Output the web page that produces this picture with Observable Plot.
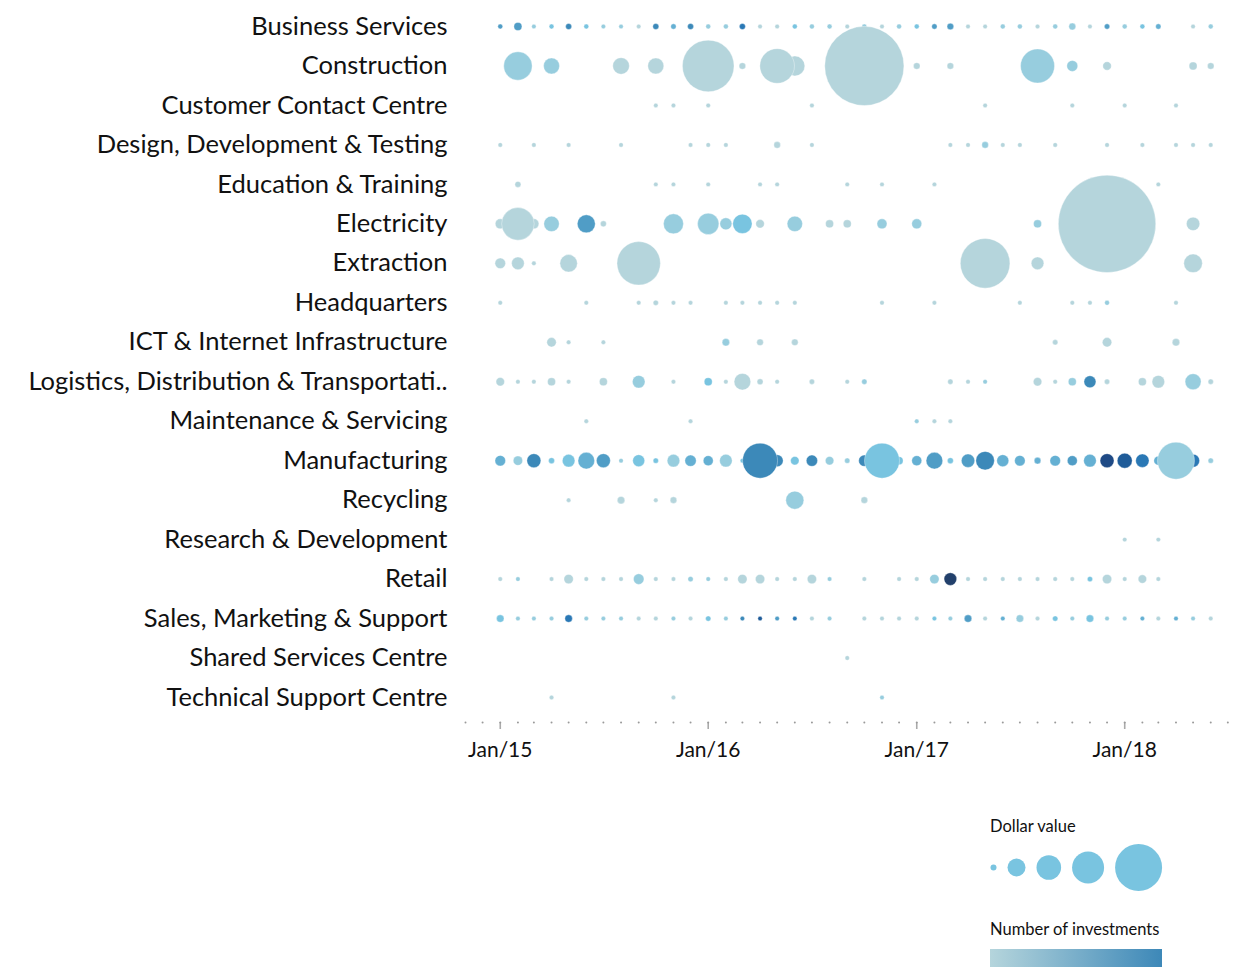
<!DOCTYPE html>
<html>
<head>
<meta charset="utf-8">
<script src="https://cdn.jsdelivr.net/npm/d3@7"></script>
<script src="https://cdn.jsdelivr.net/npm/@observablehq/plot@0.6"></script>
<style>
  body { margin: 0; background: #fff; font-family: Lato, "Open Sans", sans-serif; }
  #wrap { position: relative; width: 1245px; height: 967px; overflow: hidden; background: #fff; }
  #chart { position: absolute; left: 0; top: 0; }
  .lt { position: absolute; left: 990px; font-size: 16.5px; line-height: 1; color: #111; white-space: nowrap; }
  #sizeLegend { position: absolute; left: 990px; top: 841px; }
  #ramp { position: absolute; left: 990px; top: 949px; width: 172px; height: 30px; }
</style>
</head>
<body>
<div id="wrap">
  <div id="chart"></div>
  <div class="lt" id="t1" style="top:818px">Dollar value</div>
  <div id="sizeLegend"></div>
  <div class="lt" id="t2" style="top:921px">Number of investments</div>
  <div id="ramp"></div>
</div>
<script>
// ---- Data: [monthIndex from Jan 2015, dollar value, number of investments]
const sectors = [
  "Business Services", "Construction", "Customer Contact Centre", "Design, Development & Testing",
  "Education & Training", "Electricity", "Extraction", "Headquarters", "ICT & Internet Infrastructure",
  "Logistics, Distribution & Transportati..", "Maintenance & Servicing", "Manufacturing", "Recycling",
  "Research & Development", "Retail", "Sales, Marketing & Support", "Shared Services Centre",
  "Technical Support Centre"
];
const businessServices = [[0,6,5],[1,16,5],[2,5,2],[3,6,3],[4,9,6],[5,6,3],[6,5,2],[7,5,2],[8,5,1],[9,9,6],[10,7,4],[11,9,6],[12,6,2],[13,6,2],[14,9,7],[15,5,1],[16,5,1],[17,6,3],[18,6,2],[19,6,2],[20,5,1],[21,6,2],[22,5,1],[23,6,2],[24,6,3],[25,7,5],[26,11,5],[27,5,1],[28,5,1],[29,6,2],[30,6,2],[31,5,1],[32,6,2],[33,12,2],[34,5,1],[35,7,5],[36,6,2],[37,6,3],[38,7,4],[40,5,1],[41,6,2]];
const construction = [[1,202,2],[3,64,2],[7,69,1],[9,64,1],[12,666,1],[14,11,1],[16,300,1],[17,100,1],[21,1568,1],[24,11,1],[26,11,1],[31,289,2],[33,30,2],[35,18,1],[40,16,1],[41,11,1]];
const customerContact = [[9,5,1],[10,5,1],[12,5,1],[18,5,1],[28,5,1],[33,5,1],[36,5,1],[39,5,1]];
const designDev = [[0,5,1],[2,5,1],[4,5,1],[7,5,1],[11,5,1],[12,5,1],[13,5,1],[16,11,1],[18,5,1],[26,5,1],[27,5,1],[28,11,2],[29,5,1],[30,5,1],[32,5,1],[35,5,1],[37,5,1],[39,5,1],[40,5,1],[41,5,1]];
const education = [[1,9,1],[9,5,1],[10,5,1],[12,5,1],[15,5,1],[16,5,1],[20,5,1],[22,5,1],[25,5,1],[38,5,1]];
const electricity = [[0,25,1],[1,266,1],[2,25,1],[3,59,2],[5,81,5],[6,9,1],[10,100,2],[12,114,2],[13,36,2],[14,94,3],[15,18,1],[17,59,2],[19,16,1],[20,16,1],[22,25,2],[24,25,2],[31,16,2],[35,2372,1],[40,45,1]];
const extraction = [[0,28,1],[1,40,1],[2,5,1],[4,76,1],[8,471,1],[28,615,1],[31,40,1],[40,86,1]];
const headquarters = [[0,5,1],[5,5,1],[8,5,1],[9,7,1],[10,5,1],[11,5,1],[13,5,1],[14,5,1],[15,5,1],[16,5,1],[17,5,1],[22,5,1],[25,5,1],[30,5,1],[33,5,1],[34,5,1],[35,6,2],[39,5,1]];
const ict = [[3,22,1],[4,5,1],[6,5,1],[13,14,2],[15,11,1],[17,11,1],[32,7,1],[35,22,1],[39,14,1]];
const logistics = [[0,18,1],[1,5,1],[2,5,1],[3,16,1],[4,5,1],[6,16,1],[8,40,2],[10,5,1],[12,16,3],[13,5,1],[14,69,1],[15,9,1],[16,5,1],[18,7,1],[20,5,1],[21,7,2],[26,7,1],[27,5,1],[28,5,2],[31,18,1],[32,5,1],[33,16,2],[34,36,6],[35,7,1],[37,16,1],[38,40,1],[40,64,2],[41,7,1]];
const maintenance = [[5,5,1],[11,5,1],[24,5,2],[25,5,1],[26,5,1]];
const manufacturing = [[0,28,4],[1,22,2],[2,49,6],[3,9,3],[4,40,3],[5,69,4],[6,49,5],[7,5,2],[8,36,3],[9,7,3],[10,40,2],[11,32,4],[12,25,4],[13,40,2],[14,5,3],[15,306,6],[16,36,6],[17,18,3],[18,32,6],[19,18,2],[20,7,2],[21,32,6],[22,306,3],[23,16,3],[24,25,4],[25,69,5],[26,9,3],[27,45,5],[28,86,6],[29,36,4],[30,28,4],[31,11,4],[32,28,4],[33,25,5],[34,40,4],[35,49,9],[36,56,8],[37,45,7],[38,20,4],[39,342,2],[40,42,7],[41,7,2]];
const recycling = [[4,5,1],[7,14,1],[9,5,1],[10,11,1],[17,81,2],[21,11,1]];
const researchDev = [[36,5,1],[38,5,1]];
const retail = [[0,5,1],[1,5,2],[3,5,1],[4,22,1],[5,5,1],[6,5,1],[7,5,1],[8,28,2],[9,5,1],[10,5,1],[11,7,2],[12,5,2],[13,5,1],[14,22,1],[15,22,1],[16,5,1],[17,5,1],[18,22,1],[19,5,2],[21,5,1],[23,5,1],[24,5,1],[25,22,2],[26,40,10],[27,5,1],[28,5,1],[29,5,1],[30,5,1],[31,5,1],[32,5,1],[33,5,1],[34,7,3],[35,22,1],[36,5,1],[37,18,1],[38,5,1]];
const sales = [[0,14,3],[1,5,2],[2,5,2],[3,5,2],[4,14,7],[5,5,2],[6,5,2],[7,5,2],[8,5,1],[9,5,1],[10,5,2],[11,5,1],[12,7,3],[13,5,2],[14,5,6],[15,5,8],[16,5,5],[17,5,7],[18,5,1],[19,5,2],[21,5,1],[22,5,1],[23,5,1],[24,5,1],[25,5,3],[26,5,2],[27,14,5],[28,5,1],[29,5,4],[30,14,2],[31,5,1],[32,7,3],[33,5,2],[34,14,3],[35,5,2],[36,5,2],[37,5,4],[38,5,1],[39,5,4],[40,5,2],[41,5,1]];
const sharedServices = [[20,5,1]];
const technicalSupport = [[3,5,1],[10,5,1],[22,5,2]];

const sectorData = [businessServices, construction, customerContact, designDev, education, electricity,
  extraction, headquarters, ict, logistics, maintenance, manufacturing, recycling, researchDev, retail,
  sales, sharedServices, technicalSupport];

const colorDomain = [1, 3, 6, 7, 8, 9, 10];
const colorRange = ["#b5d5dc", "#79c4e0", "#3c89b9", "#2a78b5", "#1f5c99", "#1f4a85", "#22406b"];
const legendValues = [9, 81, 151, 256, 552];
const rampColors = ["#b5d5dc", "#3d88b8"];

// ---- Build table (small values first so that big circles sit on top)
const rows = [];
sectorData.forEach((arr, i) => arr.forEach(([m, v, c]) =>
  rows.push({sector: sectors[i], date: new Date(Date.UTC(2015, m, 1)), value: v, count: c})));
rows.sort((a, b) => a.value - b.value);

const x0 = new Date(Date.UTC(2014, 10, 1)), x1 = new Date(Date.UTC(2018, 7, 1));
const monthTicks = d3.utcMonth.range(x0, x1);
const yearTicks = d3.utcYear.range(new Date(Date.UTC(2015, 0, 1)), x1);
const rSpec = {type: "sqrt", domain: [0, 2400], range: [0, 49]};

const chart = Plot.plot({
  width: 1245, height: 790,
  marginLeft: 465, marginRight: 0, marginTop: 0, marginBottom: 68,
  style: {fontFamily: "Lato, 'Open Sans', sans-serif", background: "white", overflow: "visible"},
  x: {type: "utc", domain: [x0, x1]},
  y: {type: "point", domain: sectors, range: [26, 697], padding: 0, round: false},
  r: rSpec,
  color: {type: "linear", domain: colorDomain, range: colorRange, interpolate: "rgb"},
  marks: [
    Plot.axisY({tickSize: 0, tickPadding: 18, fontSize: 25.5, label: null, color: "#111"}),
    Plot.axisX({ticks: yearTicks, tickSize: 7, tickPadding: 13, tickFormat: d3.utcFormat("Jan/%y"),
      fontSize: 21, label: null, color: "#111", stroke: "#aaa", strokeWidth: 1.6}),
    Plot.dot(monthTicks, {x: d => d, frameAnchor: "bottom", r: 1, fill: "#9a9a9a"}),
    Plot.dot(rows, {x: "date", y: "sector", r: "value", fill: "count", sort: null,
      stroke: "white", strokeWidth: 0.5, strokeOpacity: 0.7})
  ]
});
document.getElementById("chart").appendChild(chart);

// ---- Size legend
const rs = chart.scale("r");
let acc = 0;
const legendItems = legendValues.map((v, i) => {
  const r = rs.apply(v);
  acc += (i === 0 ? r : 11 + r);
  const item = {value: v, x: acc};
  acc += r;
  return item;
});
const sizeLegend = Plot.plot({
  width: 180, height: 52, margin: 0,
  style: {background: "transparent", overflow: "visible"},
  x: {type: "identity", axis: null},
  y: {axis: null},
  r: rSpec,
  marks: [Plot.dot(legendItems, {x: "x", r: "value", fill: "#79c4e0", frameAnchor: "middle"})]
});
document.getElementById("sizeLegend").appendChild(sizeLegend);
document.getElementById("ramp").style.background = `linear-gradient(to right, ${rampColors[0]}, ${rampColors[1]})`;
</script>
</body>
</html>
